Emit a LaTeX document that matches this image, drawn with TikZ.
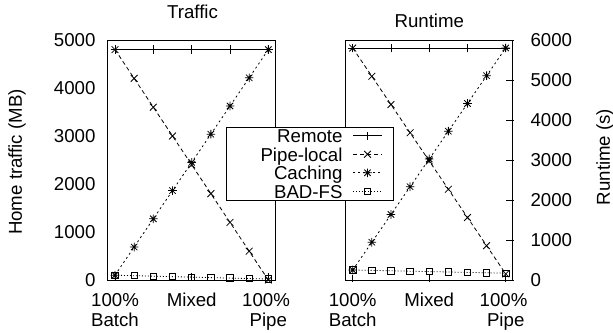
\documentclass[tikz,border=0pt]{standalone}
\usepackage{fontspec}
\setmainfont{Liberation Sans}
\usetikzlibrary{plotmarks}

% gnuplot style star: plus and cross on top of each other
\pgfdeclareplotmark{gpstar}{%
  \pgfpathmoveto{\pgfqpoint{-\pgfplotmarksize}{0pt}}%
  \pgfpathlineto{\pgfqpoint{\pgfplotmarksize}{0pt}}%
  \pgfpathmoveto{\pgfqpoint{0pt}{-\pgfplotmarksize}}%
  \pgfpathlineto{\pgfqpoint{0pt}{\pgfplotmarksize}}%
  \pgfpathmoveto{\pgfqpoint{-.75\pgfplotmarksize}{-.75\pgfplotmarksize}}%
  \pgfpathlineto{\pgfqpoint{.75\pgfplotmarksize}{.75\pgfplotmarksize}}%
  \pgfpathmoveto{\pgfqpoint{-.75\pgfplotmarksize}{.75\pgfplotmarksize}}%
  \pgfpathlineto{\pgfqpoint{.75\pgfplotmarksize}{-.75\pgfplotmarksize}}%
  \pgfusepathqstroke}

\tikzset{every picture/.style={line width=0.75pt}}
\tikzset{
  lbl/.style={inner sep=0pt, font=\fontsize{14}{16}\selectfont},
  remote/.style={line width=0.6pt, mark=+, mark size=3.2pt},
  pipelocal/.style={line width=0.6pt, dash pattern=on 3pt off 2.25pt, mark=x, mark size=3.6pt, mark options={solid}},
  caching/.style={line width=0.6pt, dash pattern=on 1.5pt off 2.25pt, mark=gpstar, mark size=3.2pt, mark options={solid}},
  badfs/.style={line width=0.6pt, dash pattern=on 0.75pt off 1.5pt, mark=square, mark size=2.4pt, mark options={solid}},
}

\begin{document}
\begin{tikzpicture}[x=0.75pt,y=0.75pt,yscale=-1,xscale=1]
\useasboundingbox (0,0) rectangle (613,332);

%Frames
\draw (107.5,40) rectangle (275.5,280);
\draw (345.5,40) rectangle (512.5,280);

%Ticks
\foreach \i in {0,4,8} {
  \draw ({115+19.17*\i},280) -- ({115+19.17*\i},273);
  \draw ({352.7+19.13*\i},282) -- ({352.7+19.13*\i},275);
}
\foreach \v in {0,1000,...,6000}
  \draw (506,{280-0.04*\v}) -- (514,{280-0.04*\v});

%Traffic curves
\draw[remote] plot[domain=0:8, samples=5] ({115+19.17*\x},{280-0.048*4800});
\draw[pipelocal] plot[domain=0:8, samples=9] ({115+19.17*\x},{280-0.048*(4800-600*\x)});
\draw[caching] plot[domain=0:8, samples=9] ({115+19.17*\x},{280-0.048*(100+587.5*\x)});
\draw[badfs] plot[domain=0:8, samples=9] ({115+19.17*\x},{280-0.048*(100-10*\x)});

%Runtime curves
\draw[remote] plot[domain=0:8, samples=5] ({352.7+19.13*\x},{280-0.04*5800});
\draw[pipelocal] plot[domain=0:8, samples=9] ({352.7+19.13*\x},{280-0.04*(5800-706*\x)});
\draw[caching] plot[domain=0:8, samples=9] ({352.7+19.13*\x},{280-0.04*(250+694*\x)});
\draw[badfs] plot[domain=0:8, samples=9] ({352.7+19.13*\x},{280-0.04*(250-10*\x)});

%Legend
\draw[fill=white] (226.7,127.3) rectangle (393.3,200.5);
\draw[remote] plot[mark indices={2}] coordinates {(353,135.8) (367.5,135.8) (382,135.8)};
\draw[pipelocal] plot[mark indices={2}] coordinates {(353,154.3) (367.5,154.3) (382,154.3)};
\draw[caching] plot[mark indices={2}] coordinates {(353,172.8) (367.5,172.8) (382,172.8)};
\draw[badfs] plot[mark indices={2}] coordinates {(353,191.3) (367.5,191.3) (382,191.3)};
% Text Node
\node[lbl, anchor=base east] (kremote) at (343,142.5) {Remote};
\node[lbl, anchor=base east] (kpipe) at (343,161) {Pipe-local};
\node[lbl, anchor=base east] (kcache) at (343,179.5) {Caching};
\node[lbl, anchor=base east] (kbadfs) at (343,198) {BAD-FS};

% Text Node
\node[lbl] (ttraffic) at (192.5,12) {Traffic};
\node[lbl] (truntime) at (429.3,21) {Runtime};
\node[lbl, rotate=90] (ylabl) at (17,162) {Home traffic (MB)};
\node[lbl, rotate=90] (ylabr) at (605,157) {Runtime (s)};

% Text Node
\foreach \v in {0,1000,...,5000}
  \node[lbl, anchor=east] (tl\v) at (96,{280-0.048*\v}) {\v};
\foreach \v in {0,1000,...,6000}
  \node[lbl, anchor=west] (tr\v) at (530,{280-0.04*\v}) {\v};

% Text Node
\node[lbl, anchor=base] (lbatch) at (115,306.7) {100\%};
\node[lbl, anchor=base] (lbatchb) at (115,326) {Batch};
\node[lbl, anchor=base] (lmixed) at (191.7,306.7) {Mixed};
\node[lbl, anchor=base] (lpipe) at (266,306.7) {100\%};
\node[lbl, anchor=base] (lpipeb) at (268.3,326) {Pipe};
\node[lbl, anchor=base] (rbatch) at (352.7,306.7) {100\%};
\node[lbl, anchor=base] (rbatchb) at (352.7,326) {Batch};
\node[lbl, anchor=base] (rmixed) at (429.2,306.7) {Mixed};
\node[lbl, anchor=base] (rpipe) at (503.5,306.7) {100\%};
\node[lbl, anchor=base] (rpipeb) at (505.7,326) {Pipe};

\end{tikzpicture}
\end{document}
